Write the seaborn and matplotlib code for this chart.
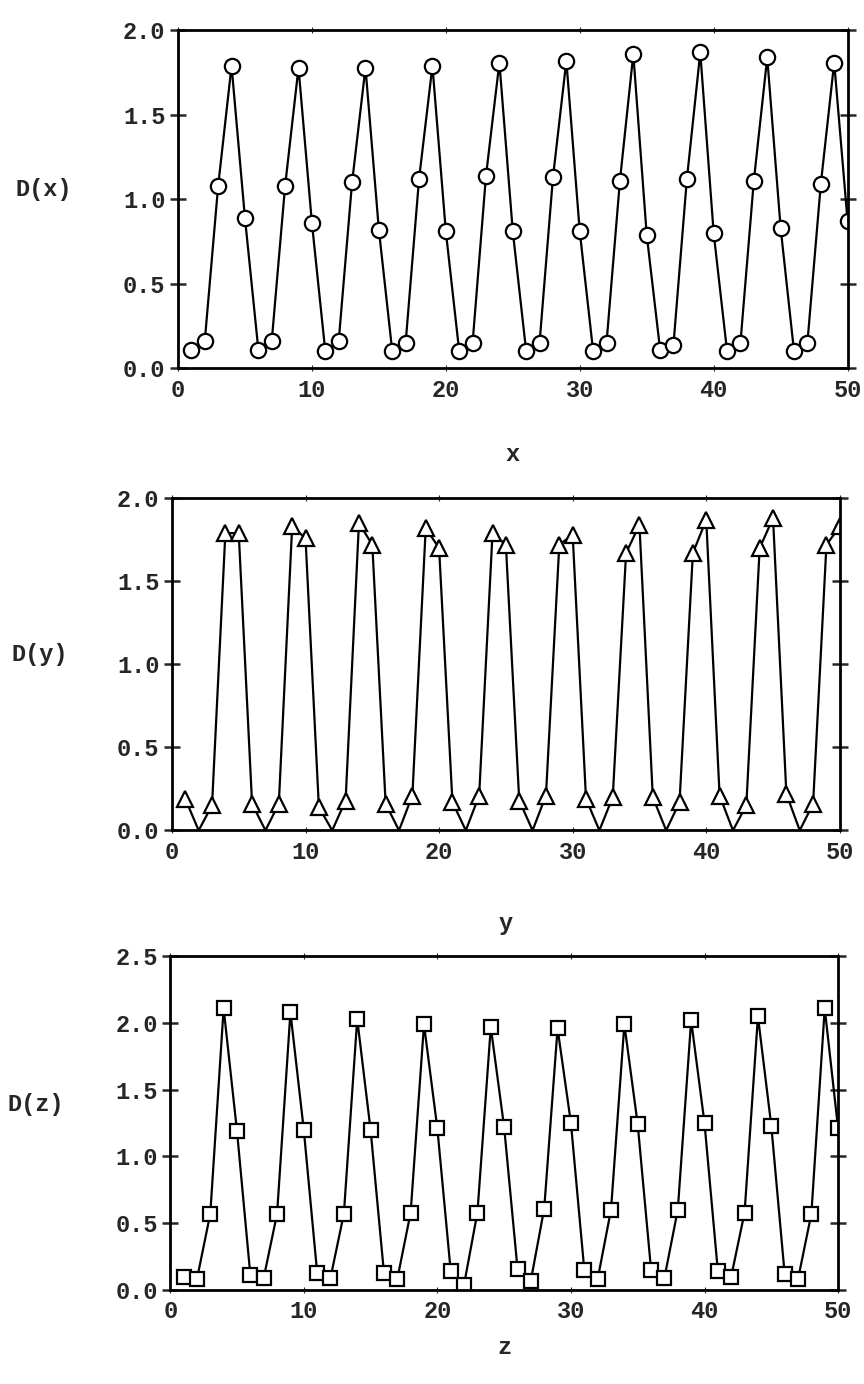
import matplotlib
matplotlib.use("Agg")
import matplotlib.pyplot as plt
import seaborn as sns
import pandas as pd

# Sample positions along each coordinate
positions = list(range(1, 51))

# D(x): circles
d_x = [0.11, 0.16, 1.08, 1.79, 0.89,
       0.11, 0.16, 1.08, 1.78, 0.86,
       0.10, 0.16, 1.10, 1.78, 0.82,
       0.10, 0.15, 1.12, 1.79, 0.81,
       0.10, 0.15, 1.14, 1.81, 0.81,
       0.10, 0.15, 1.13, 1.82, 0.81,
       0.10, 0.15, 1.11, 1.86, 0.79,
       0.11, 0.14, 1.12, 1.87, 0.80,
       0.10, 0.15, 1.11, 1.84, 0.83,
       0.10, 0.15, 1.09, 1.81, 0.87]

# D(y): triangles
d_y = [0.19, 0.00, 0.15, 1.79, 1.79,
       0.16, 0.00, 0.16, 1.83, 1.76,
       0.14, 0.00, 0.18, 1.85, 1.72,
       0.16, 0.00, 0.21, 1.82, 1.70,
       0.17, 0.00, 0.21, 1.79, 1.72,
       0.18, 0.00, 0.21, 1.72, 1.78,
       0.19, 0.00, 0.20, 1.67, 1.84,
       0.20, 0.00, 0.17, 1.67, 1.87,
       0.21, 0.00, 0.15, 1.70, 1.88,
       0.22, 0.00, 0.16, 1.72, 1.83]

# D(z): squares
d_z = [0.10, 0.08, 0.57, 2.11, 1.19,
       0.11, 0.09, 0.57, 2.08, 1.20,
       0.13, 0.09, 0.57, 2.03, 1.20,
       0.13, 0.08, 0.58, 1.99, 1.21,
       0.14, 0.04, 0.58, 1.97, 1.22,
       0.16, 0.07, 0.61, 1.96, 1.25,
       0.15, 0.08, 0.60, 1.99, 1.24,
       0.15, 0.09, 0.60, 2.02, 1.25,
       0.14, 0.10, 0.58, 2.05, 1.23,
       0.12, 0.08, 0.57, 2.11, 1.21]

x_ticks = [0, 10, 20, 30, 40, 50]
y_ticks_xy = [0.0, 0.5, 1.0, 1.5, 2.0]
y_ticks_z = [0.0, 0.5, 1.0, 1.5, 2.0, 2.5]

sns.set_style("ticks")
plt.rcParams["font.family"] = ["Liberation Mono", "DejaVu Sans Mono"]

fig = plt.figure(figsize=(8.64, 13.84), dpi=100)

panels = [
    dict(rect=[0.206, 0.734, 0.775, 0.244], data=d_x, marker="o", ms=11,
         ylab="D(x)", xlab="x", yticks=y_ticks_xy, ylim=2.0,
         ylab_pos=(-0.243, 0.53), xlab_y=-0.222),
    dict(rect=[0.199, 0.400, 0.773, 0.240], data=d_y, marker="^", ms=11,
         ylab="D(y)", xlab="y", yticks=y_ticks_xy, ylim=2.0,
         ylab_pos=(-0.240, 0.53), xlab_y=-0.247),
    dict(rect=[0.197, 0.068, 0.773, 0.241], data=d_z, marker="s", ms=10,
         ylab="D(z)", xlab="z", yticks=y_ticks_z, ylim=2.5,
         ylab_pos=(-0.243, 0.556), xlab_y=-0.138),
]

for p in panels:
    ax = fig.add_axes(p["rect"])
    df = pd.DataFrame({"pos": positions, "val": p["data"]})
    # points lying on the baseline are left without a marker
    shown = [i for i, v in enumerate(p["data"]) if v > 0.005]
    sns.lineplot(data=df, x="pos", y="val", ax=ax, sort=False,
                 color="black", linewidth=1.6, marker=p["marker"],
                 markersize=p["ms"], markerfacecolor="white",
                 markeredgecolor="black", markeredgewidth=1.6,
                 markevery=shown, clip_on=True)
    ax.set_xlim(0, 50)
    ax.set_ylim(0, p["ylim"])
    ax.set_xticks(x_ticks)
    ax.set_yticks(p["yticks"])
    ax.set_yticklabels([f"{t:.1f}" for t in p["yticks"]])
    for side in ["left", "right", "top", "bottom"]:
        ax.spines[side].set_visible(True)
        ax.spines[side].set_linewidth(2.0)
        ax.spines[side].set_color("black")
    ax.tick_params(axis="y", which="both", left=True, right=True,
                   direction="inout", length=12, width=1.8,
                   labelsize=17, pad=3, labelright=False)
    ax.tick_params(axis="x", which="both", bottom=True, top=True,
                   direction="inout", length=5, width=0.8,
                   labelsize=17, pad=5, labeltop=False)
    for lab in ax.get_xticklabels() + ax.get_yticklabels():
        lab.set_fontweight("bold")
    ax.set_ylabel(p["ylab"], rotation=0, fontsize=17, fontweight="bold",
                  ha="left", va="center")
    ax.yaxis.set_label_coords(*p["ylab_pos"])
    ax.set_xlabel(p["xlab"], fontsize=17, fontweight="bold", va="top")
    ax.xaxis.set_label_coords(0.5, p["xlab_y"])
    ax.grid(False)

fig.savefig("out.png", dpi=100, facecolor="white")
